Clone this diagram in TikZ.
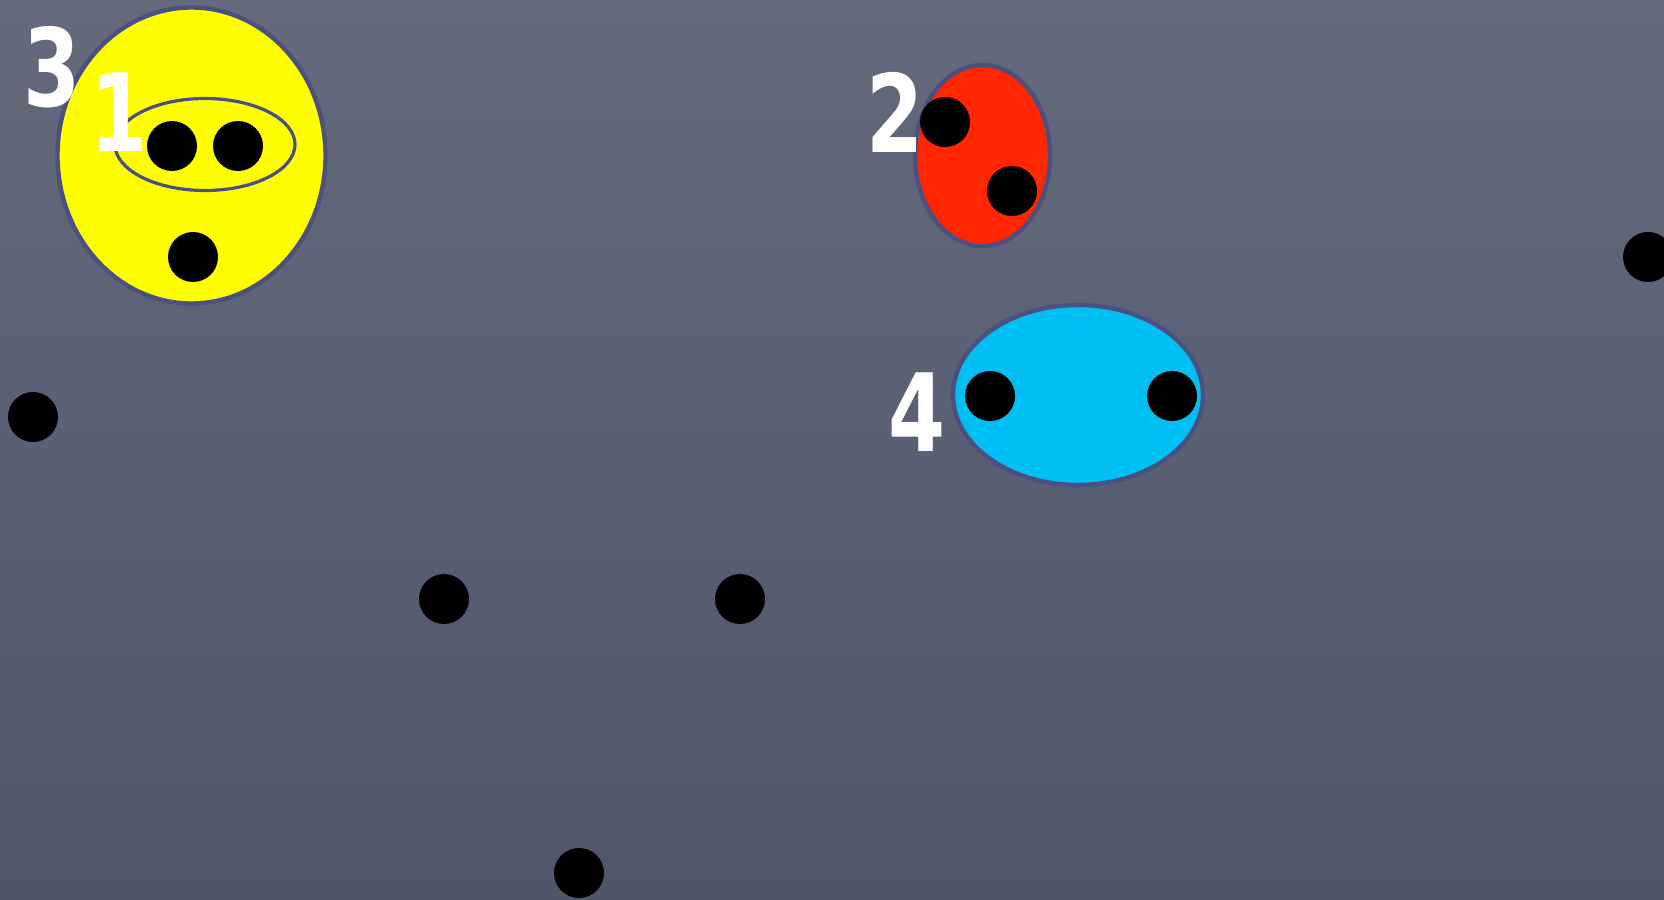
\documentclass[tikz,border=0pt]{standalone}
\usepackage{fontspec}
\usetikzlibrary{shapes.geometric}
\definecolor{boardtop}{HTML}{646A7C}
\definecolor{boardbottom}{HTML}{50566A}
\definecolor{rimblue}{HTML}{4C5080}
\definecolor{setyellow}{HTML}{FFFF00}
\definecolor{setred}{HTML}{FF2600}
\definecolor{setblue}{HTML}{00BFF2}
\newfontfamily\chalkfont[FakeStretch=0.76]{DejaVu Sans}
\tikzset{
  dot/.style={circle, fill=black, minimum size=25pt, inner sep=0pt},
  blob/.style={ellipse, draw=rimblue, line width=2.2pt, inner sep=0pt},
  tag/.style={text=white, font=\chalkfont\bfseries\fontsize{54}{54}\selectfont, inner sep=0pt}
}

\begin{document}
\begin{tikzpicture}[x=0.5pt, y=-0.5pt]
  \useasboundingbox (0,0) rectangle (1664,899);
  \shade[top color=boardtop, bottom color=boardbottom] (0,0) rectangle (1664,899);

  % sets
  \node[blob, fill=setyellow, minimum width=134pt, minimum height=148pt] (yellowset) at (191.5,155.5) {};
  \node[blob, fill=setyellow, line width=1.6pt, minimum width=90pt, minimum height=46pt] (innerset) at (205,144.5) {};
  \node[blob, fill=setred, minimum width=67.5pt, minimum height=90.5pt] (redset) at (982.5,155.5) {};
  \node[blob, fill=setblue, minimum width=125pt, minimum height=90pt] (blueset) at (1078,395) {};

  % labels
  \node[tag] (tagthree) at (52,67) {3};
  \node[tag] (tagone) at (119,112) {1};
  \node[tag] (tagtwo) at (895,112) {2};
  \node[tag] (tagfour) at (917,412) {4};

  % points
  \node[dot] (pa) at (172,146) {};
  \node[dot] (pb) at (238,146) {};
  \node[dot] (pc) at (193,257) {};
  \node[dot] (pd) at (945,122) {};
  \node[dot] (pe) at (1012,191) {};
  \node[dot] (pf) at (990,396) {};
  \node[dot] (pg) at (1172,396) {};
  \node[dot] (ph) at (33,417) {};
  \node[dot] (pi) at (444,599) {};
  \node[dot] (pj) at (740,599) {};
  \node[dot] (pk) at (579,873) {};
  \node[dot] (pl) at (1648,257) {};
\end{tikzpicture}
\end{document}
